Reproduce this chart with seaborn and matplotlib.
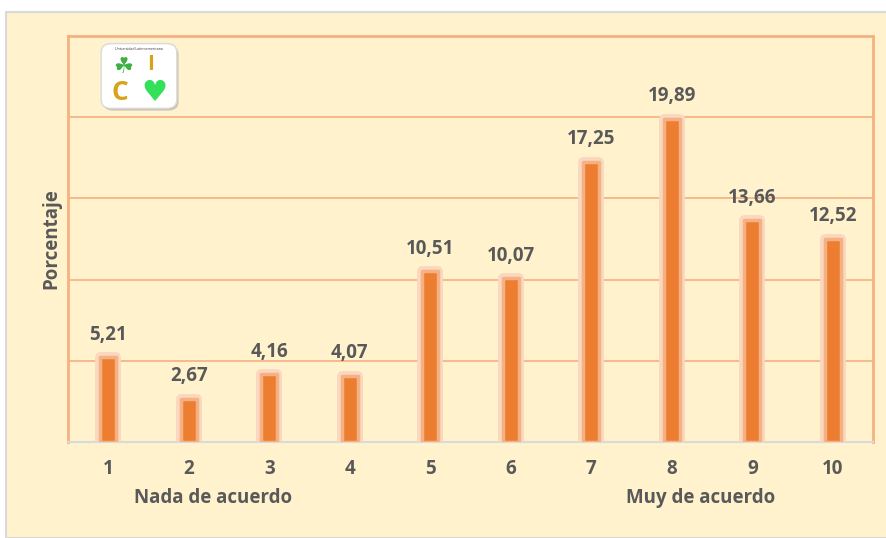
import matplotlib
matplotlib.use("Agg")
import matplotlib.pyplot as plt
import seaborn as sns
import pandas as pd
from matplotlib.patches import Rectangle, FancyBboxPatch

# data
categorias = ["1", "2", "3", "4", "5", "6", "7", "8", "9", "10"]
porcentaje = [5.21, 2.67, 4.16, 4.07, 10.51, 10.07, 17.25, 19.89, 13.66, 12.52]
etiquetas = [f"{v:.2f}".replace(".", ",") for v in porcentaje]

df = pd.DataFrame({"Puntuacion": categorias, "Porcentaje": porcentaje})

crema = "#FFF2CC"
naranja = "#ED7D31"
halo = "#FAD7BE"
halo2 = "#F4B183"
rejilla = "#F4B183"
gris = "#595959"
fs = 13.5

sns.set_style("white")
plt.rcParams["font.family"] = ["Open Sans", "DejaVu Sans"]

fig = plt.figure(figsize=(8.86, 5.38), dpi=100)
fig.patch.set_facecolor("white")
# cream chart area with gray border on left and top
fig.patches.append(Rectangle((6 / 886, 0), 1, 1 - 12 / 538, transform=fig.transFigure,
                             facecolor=crema, edgecolor="#D9D9D9", linewidth=1.5, zorder=-10))

ax = fig.add_axes([68 / 886, 1 - 442 / 538, (873 - 68) / 886, (442 - 36) / 538])
ax.set_facecolor(crema)

# halo layers then the bar itself
sns.barplot(data=df, x="Puntuacion", y="Porcentaje", order=categorias, width=0.2,
            color=naranja, edgecolor=halo, linewidth=7, saturation=1, ax=ax, zorder=3)
sns.barplot(data=df, x="Puntuacion", y="Porcentaje", order=categorias, width=0.2,
            color=naranja, edgecolor=halo2, linewidth=2.5, saturation=1, ax=ax, zorder=4)
for p in ax.patches:
    p.set_joinstyle("round")

ax.bar_label(ax.containers[1], labels=etiquetas, padding=9, fontsize=fs,
             fontweight="bold", color=gris)

ax.set_ylim(0, 25)
ax.set_xlim(-0.5, 9.5)
ax.set_yticks([5, 10, 15, 20])
ax.set_yticklabels([])
ax.tick_params(axis="y", length=0)
ax.yaxis.grid(True, color=rejilla, linewidth=1.2)
ax.set_axisbelow(True)

for s in ["left", "top", "right"]:
    ax.spines[s].set_visible(True)
    ax.spines[s].set_color(halo2)
    ax.spines[s].set_linewidth(2)
ax.spines["bottom"].set_color("#D9D9D9")
ax.spines["bottom"].set_linewidth(1.5)

ax.set_xticks(range(10))
ax.set_xticklabels(categorias, fontsize=fs, fontweight="bold", color=gris)
ax.tick_params(axis="x", which="major", length=0, pad=12)
ax.set_xticks([i - 0.5 for i in range(11)], minor=True)
ax.tick_params(axis="x", which="minor", length=5, color="#D9D9D9", width=1.5)

ax.set_xlabel("")
ax.set_ylabel("Porcentaje", fontsize=fs, fontweight="bold", color=gris, labelpad=1)

ax.text(1.3, -0.138, "Nada de acuerdo", transform=ax.get_xaxis_transform(),
        ha="center", va="center", fontsize=fs, fontweight="bold", color=gris)
ax.text(7.36, -0.138, "Muy de acuerdo", transform=ax.get_xaxis_transform(),
        ha="center", va="center", fontsize=fs, fontweight="bold", color=gris)

# small logo in the upper-left corner
logo = fig.add_axes([96 / 886, 1 - 112 / 538, 86 / 886, 72 / 538])
logo.set_xlim(0, 1)
logo.set_ylim(0, 1)
logo.axis("off")
logo.add_patch(FancyBboxPatch((0.1, 0.04), 0.84, 0.86, boxstyle="round,pad=0.02,rounding_size=0.12",
                              facecolor="#A6A6A6", edgecolor="none", alpha=0.6))
logo.add_patch(FancyBboxPatch((0.08, 0.07), 0.84, 0.86, boxstyle="round,pad=0.02,rounding_size=0.12",
                              facecolor="white", edgecolor="#D9D9D9", linewidth=1))
logo.text(0.5, 0.87, "Universidad Latinoamericana", ha="center", va="center", fontsize=2.5, color="#333333")
logo.text(0.32, 0.62, "\u2618", ha="center", va="center", fontsize=16, color="#3CB043",
          family=["DejaVu Sans"])
logo.text(0.64, 0.66, "I", ha="center", va="center", fontsize=15, fontweight="bold", color="#D9A21B")
logo.text(0.28, 0.27, "C", ha="center", va="center", fontsize=19, fontweight="bold", color="#D9A21B")
logo.text(0.68, 0.26, "\u2665", ha="center", va="center", fontsize=21, color="#33E05A",
          family=["DejaVu Sans"])

fig.savefig("out.png", dpi=100, facecolor=fig.get_facecolor())
